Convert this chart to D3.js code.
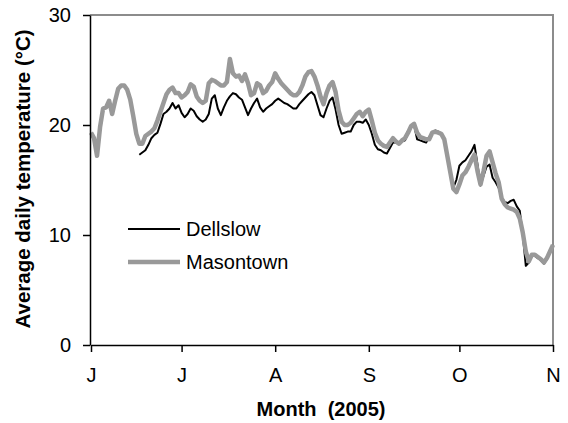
<!DOCTYPE html>
<html>
<head>
<meta charset="utf-8">
<script src="https://cdn.jsdelivr.net/npm/d3@7"></script>
<style>
  body { margin: 0; background: #fff; }
  text { font-family: Arial, "Liberation Sans", sans-serif; fill: #000; }
</style>
</head>
<body>
<svg id="chart" width="568" height="423"></svg>
<script>
// Month tick marks (first day of each month) and their labels
const monthStarts = ["2005-06-01", "2005-07-01", "2005-08-01", "2005-09-01", "2005-10-01", "2005-11-01"];
const monthLabels = ["J", "J", "A", "S", "O", "N"];
const tempTicks = [0, 10, 20, 30];

// Average daily temperature (°C), Masontown, one value per day from 1 June
const masontownStart = "2005-06-01";
const masontown = [
  19.3, 18.8, 17.2, 19.8, 21.5, 21.6, 22.2, 21.0, 22.2, 23.3,
  23.6, 23.6, 23.2, 22.3, 20.8, 19.2, 18.3, 18.3, 19.0, 19.2,
  19.4, 19.7, 20.4, 21.2, 22.0, 22.8, 23.2, 23.4, 22.9, 22.9,
  22.5, 22.7, 23.0, 23.7, 23.5, 22.6, 22.2, 22.0, 22.2, 23.8,
  24.1, 24.0, 23.8, 23.6, 23.6, 23.9, 26.0, 24.7, 24.4, 24.5,
  24.0, 24.6, 23.8, 22.7, 22.9, 23.8, 23.6, 22.9, 23.1, 23.6,
  23.9, 24.7, 24.2, 23.8, 23.5, 23.2, 22.9, 22.7, 22.7, 23.0,
  23.6, 24.4, 24.8, 24.9, 24.4, 23.6, 22.6, 21.9, 22.9, 23.6,
  23.9, 23.0, 21.3, 20.3, 20.0, 20.0, 20.2, 20.6, 21.0, 21.2,
  20.8, 21.2, 21.4, 20.4, 19.3, 18.6, 18.3, 18.1, 18.0, 18.4,
  18.8, 18.5, 18.3, 18.6, 18.8, 19.3, 19.9, 20.1, 19.3, 18.9,
  18.8, 18.7, 18.7, 19.3, 19.4, 19.3, 19.2, 18.7, 17.2, 15.7,
  14.2, 13.9, 14.6, 15.4, 15.7, 16.2, 16.8, 17.3, 15.8, 14.6,
  15.8, 17.2, 17.6, 16.6, 15.6, 14.8, 13.3, 12.8, 12.5, 12.4,
  12.3, 12.1, 11.5, 10.2, 8.5, 7.6, 8.2, 8.2, 8.0, 7.8,
  7.5, 7.9, 8.5, 9.1
];

// Average daily temperature (°C), Dellslow, one value per day from 17 June
const dellslowStart = "2005-06-17";
const dellslow = [
  17.3, 17.5, 17.7, 18.2, 18.8, 19.1, 19.3, 20.1, 21.0, 21.2,
  21.5, 22.0, 21.5, 21.8, 21.1, 20.7, 21.0, 21.5, 21.3, 20.8,
  20.5, 20.3, 20.5, 21.0, 22.4, 22.7, 21.5, 20.9, 21.6, 22.2,
  22.6, 22.9, 22.8, 22.5, 22.3, 21.6, 20.9, 21.5, 22.0, 22.4,
  21.6, 21.2, 21.5, 21.7, 21.9, 22.2, 22.4, 22.2, 22.0, 21.9,
  21.7, 21.5, 21.5, 21.9, 22.2, 22.5, 22.8, 23.0, 22.7, 21.8,
  20.9, 20.7, 21.5, 22.2, 22.5, 21.4, 20.0, 19.2, 19.3, 19.4,
  19.4, 20.0, 20.3, 20.3, 20.2, 20.5, 20.0, 19.2, 18.2, 17.8,
  17.7, 17.5, 17.4, 17.9, 18.4, 18.4, 18.3, 18.5, 18.6, 19.3,
  19.8, 20.0, 18.7, 18.6, 18.5, 18.4, 18.9, 19.3, 19.5, 19.4,
  19.2, 18.6, 17.2, 15.7, 14.3, 15.0, 16.3, 16.6, 16.8, 17.2,
  17.6, 18.2, 16.4, 14.5, 15.4, 16.2, 16.4, 15.2, 14.8, 14.3,
  13.4, 13.0, 12.9, 13.1, 13.2, 12.6, 12.2, 10.0, 7.2, 7.5,
  8.1, 8.1, 7.9, 7.7, 7.4, 7.8, 8.5, 9.0
];

const parse = d3.utcParse("%Y-%m-%d");
function toSeries(start, values) {
  const t0 = parse(start);
  return values.map((v, i) => ({ date: d3.utcDay.offset(t0, i), value: v }));
}
const seriesMason = toSeries(masontownStart, masontown);
const seriesDell = toSeries(dellslowStart, dellslow);
const tickDates = monthStarts.map(parse);

const plot = { left: 90, right: 553, top: 15, bottom: 345 };
const svg = d3.select("#chart");

const x = d3.scaleUtc().domain([tickDates[0], tickDates[tickDates.length - 1]]).range([plot.left + 1, plot.right]);
const y = d3.scaleLinear().domain([0, 30]).range([plot.bottom, plot.top]);

// Plot frame (top and right edges in grey)
svg.append("path")
  .attr("d", `M${plot.left},${plot.top}H${plot.right}V${plot.bottom}`)
  .attr("fill", "none").attr("stroke", "#8c8c8c").attr("stroke-width", 2);

const line = d3.line().x(d => x(d.date)).y(d => y(d.value)).curve(d3.curveLinear);

svg.append("path").datum(seriesDell)
  .attr("d", line).attr("fill", "none")
  .attr("stroke", "#000").attr("stroke-width", 2).attr("stroke-linejoin", "round");

svg.append("path").datum(seriesMason)
  .attr("d", line).attr("fill", "none")
  .attr("stroke", "#999999").attr("stroke-width", 4.5).attr("stroke-linejoin", "round");

// Y axis
const yAxis = svg.append("g").attr("transform", `translate(${plot.left},0)`)
  .call(d3.axisLeft(y).tickValues(tempTicks).tickSize(7).tickPadding(12).tickSizeOuter(0));
yAxis.select(".domain").attr("stroke", "#000").attr("stroke-width", 1.5);
yAxis.selectAll(".tick line").attr("stroke", "#000").attr("stroke-width", 1.5);
yAxis.selectAll(".tick text").attr("font-size", 20).attr("font-family", "Arial, 'Liberation Sans', sans-serif");

// X axis
const xAxis = svg.append("g").attr("transform", `translate(0,${plot.bottom})`)
  .call(d3.axisBottom(x).tickValues(tickDates).tickFormat((d, i) => monthLabels[i]).tickSize(7).tickPadding(16).tickSizeOuter(0));
xAxis.select(".domain").attr("stroke", "#000").attr("stroke-width", 1.5);
xAxis.selectAll(".tick line").attr("stroke", "#000").attr("stroke-width", 1.5);
xAxis.selectAll(".tick text").attr("font-size", 20).attr("font-family", "Arial, 'Liberation Sans', sans-serif");

// Axis titles
svg.append("text")
  .attr("x", 321).attr("y", 416).attr("text-anchor", "middle")
  .attr("font-size", 20).attr("font-weight", "bold")
  .style("white-space", "pre")
  .text("Month  (2005)");

svg.append("text")
  .attr("transform", "translate(30,179) rotate(-90)")
  .attr("text-anchor", "middle")
  .attr("font-size", 20.5).attr("font-weight", "bold")
  .text("Average daily temperature (°C)");

// Legend
const legendItems = [
  { name: "Dellslow", color: "#000", width: 2, yPos: 229 },
  { name: "Masontown", color: "#999999", width: 4.5, yPos: 262 }
];
const legend = svg.append("g");
legendItems.forEach(item => {
  legend.append("line")
    .attr("x1", 128).attr("x2", 180).attr("y1", item.yPos).attr("y2", item.yPos)
    .attr("stroke", item.color).attr("stroke-width", item.width);
  legend.append("text")
    .attr("x", 186).attr("y", item.yPos).attr("dy", "0.35em")
    .attr("font-size", 20)
    .text(item.name);
});
</script>
</body>
</html>
